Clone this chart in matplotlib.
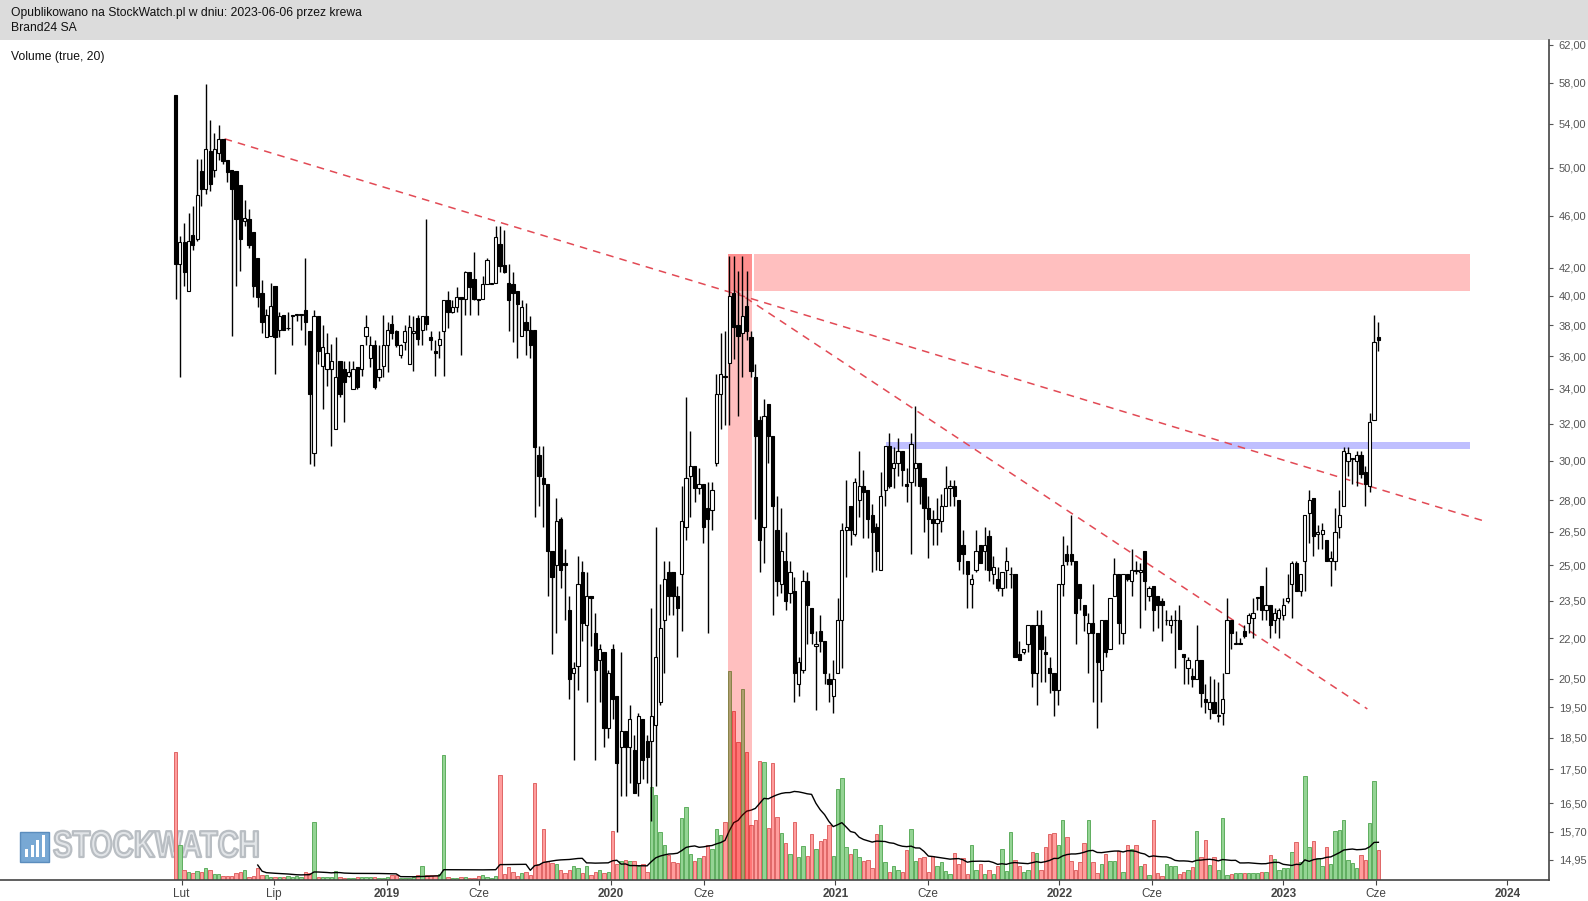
import numpy as np
import pandas as pd
import matplotlib
matplotlib.use('Agg')
import matplotlib.pyplot as plt
import matplotlib.dates as mdates
from matplotlib.patches import Rectangle
from matplotlib.patheffects import AbstractPathEffect
from matplotlib.transforms import Affine2D
from matplotlib.ticker import FixedLocator, FuncFormatter, NullLocator

plt.rcParams['font.family'] = ['Liberation Sans', 'DejaVu Sans']

# weekly candles, Brand24 SA
opens = [56.8, 42.3, 43.9, 40.3, 44.5, 44.2, 49.7, 48.2, 51.5, 49.8,
         51.3, 52.6, 50.7, 49.8, 49.7, 48.5, 45.6, 45.7, 44.7, 42.7,
         40.2, 37.2, 37.3, 40.7, 37.7, 38.7, 37.8, 38.6, 38.7, 38.7,
         39.0, 37.6, 30.4, 38.6, 35.4, 35.2, 35.2, 31.7, 35.7, 35.2,
         34.8, 34.0, 35.3, 35.2, 37.3, 35.9, 36.7, 34.7, 35.4, 36.7,
         38.1, 37.6, 36.1, 36.9, 35.5, 37.5, 38.5, 37.7, 38.6, 37.2,
         36.3, 36.7, 37.6, 39.7, 38.9, 39.2, 39.9, 39.8, 41.7, 41.2,
         39.8, 39.8, 40.8, 40.8, 40.9, 43.8, 42.2, 40.9, 40.8, 40.3,
         37.3, 38.2, 37.7, 37.7, 30.3, 29.1, 28.8, 25.6, 25.0, 27.1,
         25.1, 23.1, 20.7, 20.95, 24.7, 22.5, 23.7, 22.2, 21.2, 21.5,
         18.8, 21.6, 19.9, 18.2, 18.7, 18.2, 18.1, 17.1, 19.1, 18.4,
         18.4, 18.9, 19.7, 22.7, 24.7, 24.7, 23.7, 24.6, 26.7, 29.2,
         29.7, 28.6, 28.8, 27.6, 27.5, 29.9, 33.7, 34.8, 35.6, 40.2,
         38.0, 37.5, 39.3, 37.2, 34.7, 32.2, 26.7, 33.1, 31.3, 26.6,
         24.2, 25.2, 23.8, 23.9, 20.3, 20.8, 24.3, 23.2, 21.7, 22.3,
         21.9, 20.5, 19.9, 20.7, 22.7, 26.6, 27.7, 26.4, 28.0, 28.7,
         28.5, 27.3, 26.7, 24.8, 28.5, 30.8, 29.6, 29.9, 30.5, 28.8,
         28.9, 29.6, 29.9, 29.1, 27.6, 27.1, 26.9, 27.0, 27.7, 28.6,
         28.7, 28.0, 25.9, 25.2, 24.2, 24.8, 25.9, 25.6, 26.3, 24.6,
         24.4, 24.0, 24.8, 24.6, 24.6, 21.4, 21.5, 21.8, 22.5, 20.7,
         22.5, 21.5, 20.9, 20.7, 20.1, 24.2, 25.5, 25.5, 25.2, 24.2,
         23.3, 22.2, 22.6, 22.2, 20.8, 22.7, 21.6, 23.7, 24.6, 22.2,
         24.6, 24.3, 24.8, 24.7, 25.6, 23.7, 24.1, 23.7, 23.5, 22.7,
         22.5, 22.7, 22.7, 21.4, 20.9, 20.6, 20.5, 21.2, 19.8, 19.45,
         19.7, 19.2, 19.3, 20.7, 22.7, 21.8, 21.8, 22.3, 22.6, 22.8,
         23.6, 24.1, 23.1, 23.3, 22.7, 22.8, 22.9, 23.5, 24.2, 25.1,
         23.9, 25.2, 27.4, 28.1, 26.4, 26.4, 26.1, 25.2, 25.2, 26.7,
         27.7, 30.0, 30.1, 30.0, 30.3, 29.4, 28.7, 32.2, 37.2]

highs = [56.8, 44.4, 45.4, 46.2, 46.8, 50.8, 50.8, 57.9, 54.4, 53.1,
         53.9, 52.6, 50.7, 49.8, 49.7, 48.5, 47.3, 46.5, 44.7, 42.7,
         41.1, 39.1, 40.9, 40.7, 38.9, 38.7, 38.9, 38.7, 38.7, 38.7,
         42.7, 37.6, 39.0, 38.6, 38.0, 37.5, 36.8, 37.2, 35.7, 35.7,
         35.7, 35.7, 35.3, 36.7, 38.7, 37.3, 37.0, 36.7, 38.7, 38.2,
         38.7, 37.7, 36.8, 38.0, 38.7, 38.6, 38.7, 38.6, 45.7, 37.6,
         37.0, 37.6, 39.7, 40.3, 39.7, 40.6, 39.9, 41.8, 41.7, 43.2,
         39.8, 41.4, 42.7, 40.9, 45.2, 45.2, 44.9, 42.3, 41.7, 40.3,
         39.7, 39.5, 38.6, 37.7, 30.8, 30.8, 28.8, 25.6, 28.1, 27.2,
         25.7, 23.7, 21.1, 25.4, 25.2, 24.7, 23.7, 23.0, 21.8, 21.5,
         20.8, 21.8, 19.9, 21.5, 18.7, 19.6, 18.6, 19.3, 19.1, 18.6,
         23.2, 26.7, 24.2, 25.2, 25.2, 24.7, 24.1, 28.7, 33.5, 31.6,
         29.7, 29.6, 28.8, 28.9, 28.9, 34.9, 37.5, 37.6, 42.9, 42.9,
         41.8, 42.9, 41.8, 37.6, 35.5, 32.4, 33.4, 33.1, 31.3, 28.2,
         27.6, 26.5, 25.2, 24.5, 21.3, 24.8, 24.7, 23.2, 22.3, 22.9,
         21.9, 20.7, 21.2, 23.6, 26.9, 29.0, 27.7, 29.1, 30.5, 29.5,
         28.5, 27.8, 26.9, 29.4, 30.8, 31.5, 30.7, 31.2, 30.5, 29.6,
         31.5, 33.0, 29.9, 29.1, 28.2, 27.5, 28.1, 28.3, 29.7, 29.0,
         29.0, 28.0, 26.6, 25.2, 24.6, 26.6, 25.9, 26.7, 26.6, 25.4,
         24.9, 24.7, 25.8, 24.9, 24.6, 21.9, 21.6, 22.5, 22.5, 23.1,
         23.1, 22.1, 21.3, 20.7, 24.2, 26.3, 25.9, 27.3, 25.2, 24.2,
         23.3, 23.0, 24.2, 22.2, 22.7, 22.7, 23.6, 25.3, 24.6, 24.6,
         24.6, 25.7, 25.2, 25.1, 25.6, 24.1, 24.1, 23.7, 23.6, 23.1,
         22.9, 23.1, 23.3, 21.4, 21.3, 20.9, 22.5, 21.2, 20.3, 20.6,
         20.5, 20.4, 20.7, 23.6, 22.7, 22.3, 22.0, 22.5, 23.0, 23.6,
         23.6, 24.1, 24.9, 23.3, 23.2, 23.2, 23.6, 24.6, 25.2, 25.2,
         24.6, 27.3, 28.5, 28.1, 26.8, 26.9, 26.1, 25.6, 27.6, 28.5,
         30.7, 30.7, 30.1, 30.5, 30.5, 29.7, 32.6, 38.7, 38.2]

lows = [39.8, 34.7, 40.7, 40.3, 43.3, 44.0, 46.8, 47.8, 48.0, 49.2,
        50.7, 50.3, 48.8, 37.3, 40.7, 41.8, 45.2, 43.5, 39.9, 39.2,
        37.5, 37.2, 37.3, 34.9, 37.2, 37.7, 37.7, 36.7, 38.3, 37.7,
        36.7, 29.8, 29.7, 35.5, 32.8, 34.2, 30.8, 31.7, 33.5, 32.1,
        34.7, 34.0, 34.0, 34.8, 36.7, 35.3, 34.0, 34.5, 34.7, 35.0,
        37.1, 36.6, 35.9, 36.4, 35.5, 35.1, 36.7, 36.7, 37.7, 36.4,
        34.8, 35.9, 34.8, 37.8, 38.8, 38.9, 36.1, 38.7, 38.7, 39.7,
        38.7, 39.8, 40.8, 40.8, 40.9, 41.7, 41.6, 37.6, 36.9, 35.9,
        37.3, 36.1, 35.9, 27.2, 27.7, 26.7, 23.7, 21.4, 22.2, 24.0,
        22.7, 19.8, 17.8, 20.1, 21.9, 19.7, 21.7, 17.8, 19.7, 18.2,
        18.5, 19.1, 15.7, 16.7, 16.7, 17.1, 16.8, 16.7, 17.2, 17.1,
        16.0, 17.0, 19.6, 20.7, 22.9, 22.9, 21.3, 22.3, 26.1, 27.2,
        27.9, 28.3, 26.0, 22.2, 26.6, 29.7, 31.7, 31.9, 31.9, 35.8,
        32.4, 34.7, 37.0, 34.7, 27.1, 24.7, 25.1, 29.9, 22.9, 23.7,
        23.8, 23.1, 23.4, 19.7, 19.9, 20.7, 21.8, 21.8, 19.4, 21.5,
        20.3, 19.7, 19.3, 20.7, 20.9, 24.5, 25.9, 26.3, 27.2, 26.2,
        26.2, 24.7, 24.8, 24.8, 27.7, 28.6, 28.6, 29.2, 28.7, 27.9,
        25.5, 28.7, 27.8, 26.5, 25.3, 25.9, 25.9, 26.5, 27.7, 27.7,
        27.7, 24.8, 24.6, 23.2, 23.2, 24.7, 25.1, 24.8, 24.3, 24.2,
        23.9, 23.7, 24.0, 24.0, 21.3, 21.2, 21.4, 21.5, 20.2, 19.6,
        20.4, 20.4, 20.0, 19.2, 19.6, 23.7, 25.0, 25.0, 21.8, 23.1,
        22.3, 20.7, 19.7, 18.8, 19.7, 21.3, 21.6, 23.7, 21.8, 21.8,
        24.3, 23.7, 24.6, 22.4, 23.1, 23.5, 22.3, 22.4, 21.9, 22.5,
        22.2, 20.9, 21.6, 20.3, 20.3, 20.2, 20.5, 19.5, 19.3, 19.1,
        19.3, 19.0, 18.9, 20.7, 21.6, 21.8, 21.8, 22.0, 22.2, 22.0,
        23.1, 22.7, 22.7, 22.0, 22.2, 22.0, 22.7, 23.4, 22.8, 23.9,
        23.7, 23.9, 26.0, 25.4, 25.7, 25.7, 25.2, 24.1, 24.8, 26.2,
        27.7, 29.2, 28.8, 28.7, 29.1, 27.7, 28.4, 32.2, 36.3]

closes = [42.3, 43.9, 41.7, 44.0, 43.7, 47.7, 48.2, 51.7, 48.6, 51.7,
          52.6, 50.6, 49.6, 48.2, 45.7, 44.2, 45.8, 43.7, 40.7, 39.9,
          38.2, 38.7, 39.3, 37.2, 38.6, 37.7, 37.8, 38.7, 38.7, 38.7,
          38.2, 33.7, 38.6, 36.3, 36.6, 36.2, 35.7, 34.7, 33.7, 34.4,
          35.0, 35.2, 34.1, 36.7, 37.9, 36.7, 34.1, 35.2, 36.7, 37.7,
          37.5, 36.7, 36.7, 37.6, 37.9, 37.6, 37.1, 38.6, 38.1, 37.0,
          36.2, 37.1, 39.7, 38.9, 39.2, 39.9, 39.8, 41.7, 40.6, 39.8,
          39.7, 40.8, 42.6, 40.9, 44.3, 42.1, 41.7, 39.7, 40.2, 39.4,
          39.2, 37.7, 36.7, 30.7, 29.2, 28.8, 25.6, 24.5, 27.0, 24.8,
          25.0, 20.5, 20.9, 24.2, 22.6, 23.7, 23.6, 20.8, 21.6, 18.8,
          20.7, 19.8, 17.7, 18.7, 18.2, 19.1, 16.8, 19.2, 17.8, 17.9,
          19.2, 21.3, 22.4, 24.4, 23.7, 23.7, 23.2, 27.0, 29.1, 29.7,
          28.6, 28.8, 26.7, 27.1, 28.5, 33.7, 34.9, 34.7, 40.0, 37.9,
          37.3, 38.6, 37.6, 35.1, 31.3, 26.1, 32.4, 31.3, 27.7, 24.3,
          25.6, 23.5, 24.7, 20.7, 21.1, 24.3, 23.3, 22.2, 21.8, 21.9,
          20.7, 20.3, 20.5, 22.7, 26.6, 26.7, 26.6, 28.9, 28.7, 28.4,
          27.1, 26.5, 25.6, 28.2, 30.8, 28.7, 29.9, 30.5, 29.5, 28.7,
          30.9, 29.9, 28.7, 27.6, 27.1, 26.9, 27.1, 27.7, 28.6, 28.7,
          28.2, 25.2, 25.5, 24.6, 24.4, 25.6, 25.1, 25.9, 24.8, 24.9,
          24.0, 24.7, 25.2, 24.6, 21.3, 21.2, 21.6, 22.5, 20.7, 22.5,
          21.6, 21.4, 20.7, 20.1, 24.2, 25.0, 25.2, 25.2, 23.0, 23.6,
          22.9, 22.6, 22.2, 21.1, 22.7, 21.5, 23.6, 24.6, 22.6, 24.6,
          24.4, 24.8, 24.75, 24.8, 24.3, 24.0, 23.1, 23.3, 23.3, 22.7,
          22.7, 22.7, 21.6, 21.3, 21.2, 20.5, 21.2, 20.0, 19.7, 19.7,
          19.3, 19.2, 19.8, 22.7, 22.2, 21.8, 21.8, 22.1, 22.9, 23.0,
          23.6, 23.1, 23.3, 22.5, 23.0, 23.1, 23.3, 23.6, 25.1, 23.9,
          24.6, 27.3, 28.0, 26.3, 26.5, 26.6, 25.2, 25.3, 26.5, 27.3,
          30.5, 30.4, 30.1, 30.3, 29.3, 28.8, 32.1, 36.9, 37.0]

# weekly volume, thousands of shares
volumes = [122, 33, 10, 8, 7, 9, 8, 11, 10, 6,
           6, 4, 4, 4, 7, 8, 10, 3, 4, 11,
           5, 5, 3, 3, 3, 3, 4, 3, 4, 3,
           8, 7, 55, 3, 3, 3, 3, 9, 3, 2,
           2, 2, 3, 3, 3, 3, 3, 2, 2, 3,
           5, 5, 2, 2, 2, 3, 5, 13, 5, 5,
           5, 6, 119, 3, 2, 2, 3, 3, 2, 2,
           4, 5, 3, 2, 4, 100, 6, 12, 8, 4,
           7, 8, 5, 92, 15, 49, 18, 16, 15, 10,
           7, 10, 13, 11, 7, 13, 5, 8, 10, 7,
           8, 47, 15, 18, 19, 18, 18, 13, 15, 8,
           89, 81, 46, 33, 24, 17, 16, 59, 70, 25,
           18, 21, 23, 33, 30, 49, 43, 55, 199, 161,
           131, 182, 122, 52, 57, 113, 112, 50, 111, 60,
           45, 35, 25, 55, 22, 32, 23, 44, 30, 37,
           39, 52, 23, 87, 97, 31, 25, 30, 22, 18,
           19, 11, 44, 52, 17, 8, 13, 10, 8, 29,
           49, 18, 21, 22, 8, 23, 13, 17, 9, 6,
           26, 15, 21, 6, 33, 10, 15, 6, 10, 6,
           13, 30, 9, 46, 19, 13, 8, 10, 27, 26,
           10, 31, 44, 45, 33, 57, 41, 18, 10, 17,
           35, 57, 17, 7, 15, 25, 18, 18, 28, 8,
           33, 30, 33, 13, 15, 5, 57, 7, 4, 15,
           13, 13, 6, 8, 10, 12, 47, 22, 38, 14,
           22, 10, 59, 5, 6, 7, 7, 7, 7, 7,
           7, 8, 8, 24, 20, 10, 11, 11, 27, 36,
           17, 99, 31, 37, 21, 13, 31, 15, 47, 48,
           57, 19, 16, 11, 24, 19, 54, 94, 29]

first_week = '2018-01-22'
last_week = '2023-06-05'

y_ticks = [62, 58, 54, 50, 46, 42, 40, 38, 36, 34, 32, 30, 28, 26.5, 25,
           23.5, 22, 20.5, 19.5, 18.5, 17.5, 16.5, 15.7, 14.95]
x_tick_dates = ['2018-02-01', '2018-07-01', '2019-01-01', '2019-06-01', '2020-01-01',
                '2020-06-01', '2021-01-01', '2021-06-01', '2022-01-01', '2022-06-01',
                '2023-01-01', '2023-06-01', '2024-01-01']
x_tick_labels = ['Lut', 'Lip', '2019', 'Cze', '2020', 'Cze', '2021', 'Cze', '2022',
                 'Cze', '2023', 'Cze', '2024']

# drawn trend lines (date, price)
trend1 = (['2018-04-12', '2023-11-24'], [52.6, 27.0])
trend2 = (['2020-07-20', '2023-05-18'], [40.4, 19.45])
# resistance / support zones
red_zone = ('2020-07-10', '2023-11-01', 40.3, 43.0)
red_col = ('2020-07-10', '2020-08-19')
blue_zone = ('2021-03-24', '2023-11-01', 30.6, 31.0)


class Squeeze(AbstractPathEffect):
    # narrows glyphs horizontally around x0 (display px), with an outline
    def __init__(self, sx, x0, edge, lw):
        super().__init__()
        self.sx, self.x0, self.edge, self.lw = sx, x0, edge, lw

    def draw_path(self, renderer, gc, tpath, affine, rgbFace=None):
        t = Affine2D().translate(-self.x0, 0).scale(self.sx, 1).translate(self.x0, 0)
        gc0 = renderer.new_gc()
        gc0.copy_properties(gc)
        gc0.set_foreground(self.edge)
        gc0.set_linewidth(self.lw)
        renderer.draw_path(gc0, tpath, affine + t, rgbFace)
        gc0.restore()


o = np.array(opens)
h = np.array(highs)
l = np.array(lows)
c = np.array(closes)
v = np.array(volumes, dtype=float)
x = mdates.date2num(pd.date_range(first_week, last_week, periods=len(c)).to_numpy())
up = c >= o
vol_ma = pd.Series(v).rolling(20).mean()

d = lambda s: mdates.date2num(pd.Timestamp(s).to_datetime64())
xmin, xmax = d('2017-04-11'), d('2024-03-09')

W, H = 1588, 901
fig = plt.figure(figsize=(W / 100, H / 100), dpi=100, facecolor='white')
rect = [0, 21 / H, 1549 / W, 840 / H]

# header
fig.add_artist(Rectangle((0, 1 - 40 / H), 1, 40 / H, transform=fig.transFigure,
                         facecolor='#dcdcdc', edgecolor='none', zorder=0))
fig.text(11 / W, 1 - 13 / H, 'Opublikowano na StockWatch.pl w dniu: 2023-06-06 przez krewa',
         fontsize=8.75, va='center', color='#111111')
fig.text(11 / W, 1 - 28 / H, 'Brand24 SA', fontsize=8.75, va='center', color='#111111')
fig.text(11 / W, 1 - 57 / H, 'Volume (true, 20)', fontsize=8.75, va='center', color='#111111')

# watermark
fig.add_artist(Rectangle((20 / W, 1 - 862 / H), 29 / W, 30 / H, transform=fig.transFigure,
                         facecolor='#78a8d4', edgecolor='#5b8dbd', lw=1, zorder=0.5))
for i, bh in enumerate([8, 12, 17, 22]):
    fig.add_artist(Rectangle(((25 + i * 5.5) / W, 1 - 857 / H), 3 / W, bh / H,
                             transform=fig.transFigure, facecolor='white',
                             edgecolor='none', zorder=0.6))
fig.text(53 / W, 1 - 847 / H, 'STOCKWATCH', fontsize=27, fontweight='bold',
         color='#e2e5e8', va='center', ha='left', zorder=0.5,
         path_effects=[Squeeze(0.78, 53, '#b9bec3', 1.6)])

# volume panel
axv = fig.add_axes(rect)
axv.set_zorder(1)
axv.patch.set_visible(False)
axv.bar(x, v, width=5.5, color=np.where(up, '#94d494', '#ff9d9d'),
        edgecolor=np.where(up, '#5fae5f', '#e06666'), linewidth=0.7)
axv.plot(x, vol_ma, color='black', lw=1.0)
axv.set_xlim(xmin, xmax)
axv.set_ylim(0, 800)
axv.axis('off')

# price panel
ax = fig.add_axes(rect)
ax.set_zorder(2)
ax.patch.set_visible(False)
ax.set_yscale('log')
ax.set_xlim(xmin, xmax)
ax.set_ylim(14.43, 62.5)

ax.add_patch(Rectangle((d(red_zone[0]), red_zone[2]), d(red_zone[1]) - d(red_zone[0]),
                       red_zone[3] - red_zone[2], facecolor=(1, 0, 0, 0.25), lw=0, zorder=1))
ax.add_patch(Rectangle((d(red_col[0]), 10), d(red_col[1]) - d(red_col[0]),
                       red_zone[3] - 10, facecolor=(1, 0, 0, 0.25), lw=0, zorder=1))
ax.add_patch(Rectangle((d(red_col[1]), red_zone[2]), 3, red_zone[3] - red_zone[2],
                       facecolor='white', lw=0, zorder=1.1))
ax.add_patch(Rectangle((d(blue_zone[0]), blue_zone[2]), d(blue_zone[1]) - d(blue_zone[0]),
                       blue_zone[3] - blue_zone[2], facecolor=(0, 0, 1, 0.25), lw=0, zorder=1))

for tx, ty in (trend1, trend2):
    ax.plot([d(t) for t in tx], ty, color='#e24a55', lw=1.1, ls=(0, (5, 4)), zorder=2)

ax.vlines(x, l, h, color='black', lw=1.0, zorder=3)
body = np.maximum(np.abs(c - o), 0.03)
ax.bar(x, body, bottom=np.minimum(o, c), width=5.3,
       color=np.where(up, 'white', 'black'), edgecolor='black', linewidth=0.8, zorder=4)

# axes styling
for s in ['left', 'top']:
    ax.spines[s].set_visible(False)
for s in ['right', 'bottom']:
    ax.spines[s].set_color('#444444')
    ax.spines[s].set_linewidth(1.2)
ax.yaxis.tick_right()
ax.yaxis.set_major_locator(FixedLocator(y_ticks))
ax.yaxis.set_minor_locator(NullLocator())
ax.yaxis.set_major_formatter(FuncFormatter(lambda val, pos: f'{val:.2f}'.replace('.', ',')))
ax.tick_params(axis='y', direction='out', length=3, width=0.8, color='#555555',
               labelsize=8, labelcolor='#555555', pad=4)
ax.set_xticks([d(t) for t in x_tick_dates])
ax.set_xticklabels(x_tick_labels)
ax.xaxis.set_minor_locator(NullLocator())
ax.tick_params(axis='x', direction='out', length=3.5, width=0.8, color='#444444',
               labelsize=8.5, labelcolor='#444444', pad=2)
for lab in ax.get_xticklabels():
    if lab.get_text().isdigit():
        lab.set_fontweight('bold')

fig.savefig('out.png', dpi=100, facecolor='white')
